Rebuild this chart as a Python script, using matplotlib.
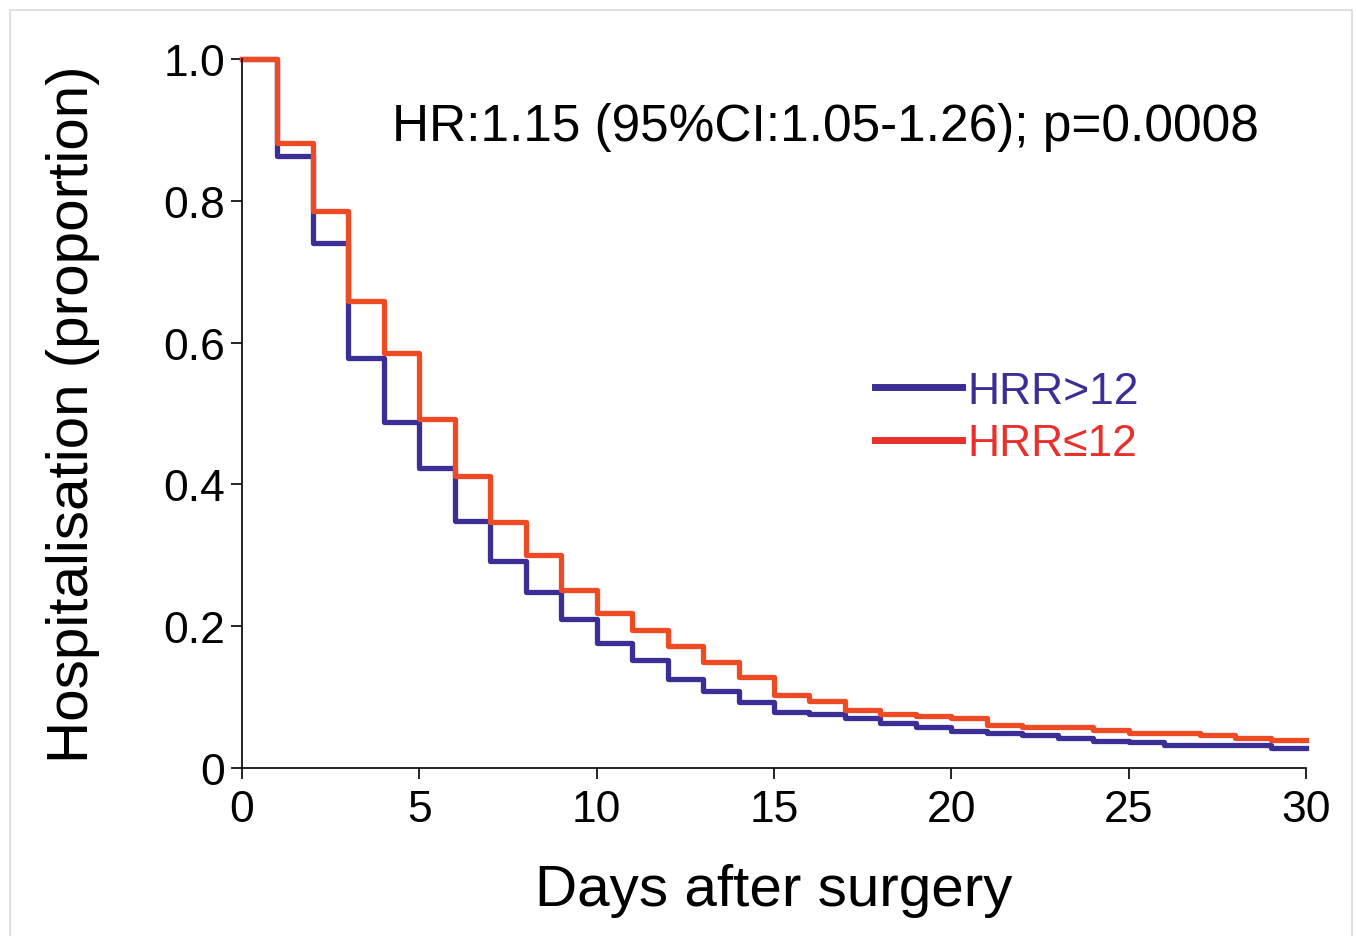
import matplotlib.pyplot as plt
from matplotlib.lines import Line2D
from matplotlib.patches import Rectangle

plt.rcParams['font.family'] = ['Liberation Sans', 'DejaVu Sans']

# Kaplan-Meier style step values (value holds from day d to d+1)
days = list(range(0, 31))
hrr_high = [1.0, 0.863, 0.740, 0.578, 0.488, 0.423, 0.348, 0.292, 0.248, 0.210,
            0.176, 0.152, 0.126, 0.108, 0.093, 0.079, 0.076, 0.070, 0.064, 0.058,
            0.052, 0.049, 0.046, 0.043, 0.038, 0.036, 0.033, 0.032, 0.032, 0.028]
hrr_low = [1.0, 0.881, 0.786, 0.658, 0.586, 0.492, 0.412, 0.347, 0.300, 0.251,
           0.218, 0.194, 0.172, 0.150, 0.128, 0.103, 0.094, 0.082, 0.076, 0.073,
           0.070, 0.060, 0.058, 0.058, 0.054, 0.049, 0.049, 0.047, 0.043, 0.040]
# repeat last value so the step reaches day 30
hrr_high = hrr_high + [hrr_high[-1]]
hrr_low = hrr_low + [hrr_low[-1]]

x_ticks = [0, 5, 10, 15, 20, 25, 30]
y_ticks = [0, 0.2, 0.4, 0.6, 0.8, 1.0]
y_ticklabels = ['0', '0.2', '0.4', '0.6', '0.8', '1.0']

BLUE = '#3B2F95'
ORANGE = '#EE4A24'
RED = '#E8302C'

fig = plt.figure(figsize=(13.56, 9.37), dpi=100)
ax = fig.add_axes([242 / 1356, 1 - 769 / 937, 1064 / 1356, 709 / 937])

# thin grey frame around the whole picture
fig.patches.append(Rectangle((10 / 1356, -0.05), 1342 / 1356, 1 - 11 / 937 + 0.05,
                             transform=fig.transFigure, fill=False,
                             edgecolor='#D9D9D9', linewidth=1.2))

ax.step(days, hrr_high, where='post', color=BLUE, linewidth=3.8, clip_on=False)
ax.step(days, hrr_low, where='post', color=ORANGE, linewidth=3.8, clip_on=False)

ax.set_xlim(0, 30)
ax.set_ylim(0, 1)
ax.set_xticks(x_ticks)
ax.set_yticks(y_ticks)
ax.set_yticklabels(y_ticklabels)
ax.tick_params(axis='both', direction='out', length=8, width=1.2,
               labelsize=32, color='black')
ax.tick_params(axis='x', pad=7)
ax.tick_params(axis='y', pad=4)

for side in ['top', 'right']:
    ax.spines[side].set_visible(False)
for side in ['left', 'bottom']:
    ax.spines[side].set_linewidth(1.2)

ax.set_xlabel('Days after surgery', fontsize=42, labelpad=24)
ax.set_ylabel('Hospitalisation (proportion)', fontsize=42, labelpad=46)

ax.text(0.141, 0.905, 'HR:1.15 (95%CI:1.05-1.26); p=0.0008',
        transform=ax.transAxes, ha='left', va='center', fontsize=37)

handles = [Line2D([], [], color=BLUE, linewidth=5),
           Line2D([], [], color=RED, linewidth=5)]
ax.legend(handles, ['HRR>12', 'HRR≤12'], loc='upper left',
          bbox_to_anchor=(0.595, 0.56), frameon=False, fontsize=32,
          handlelength=1.95, handletextpad=0.12, labelspacing=0.25,
          borderpad=0, borderaxespad=0, labelcolor=[BLUE, RED])

fig.savefig('out.png', dpi=100, facecolor='white')
